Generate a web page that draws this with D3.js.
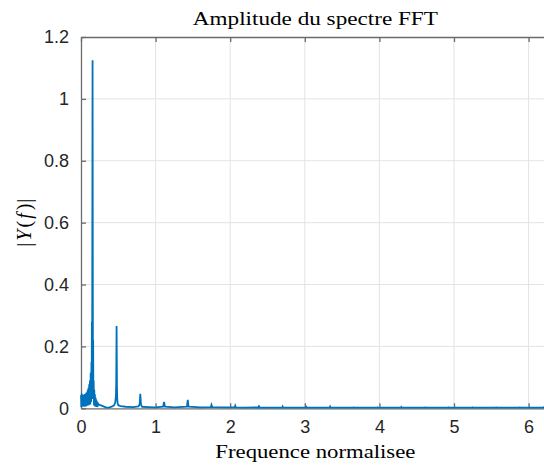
<!DOCTYPE html>
<html>
<head>
<meta charset="utf-8">
<script src="https://cdn.jsdelivr.net/npm/d3@7"></script>
<style>
  html, body { margin: 0; padding: 0; background: #fff; }
  svg { display: block; }
</style>
</head>
<body>
<div id="chart"></div>
<script>
// ---- data ----
const freq = [
  0.000, 0.005, 0.010, 0.015, 0.020, 0.025, 0.030, 0.035, 0.040, 0.045,
  0.050, 0.055, 0.060, 0.065, 0.070, 0.075, 0.080, 0.085, 0.090, 0.095,
  0.100, 0.105, 0.110, 0.115, 0.120, 0.125, 0.130, 0.135, 0.140, 0.143,
  0.146, 0.149, 0.155, 0.160, 0.163, 0.166, 0.170, 0.174, 0.178, 0.182,
  0.186, 0.190, 0.195, 0.200, 0.205, 0.210, 0.215, 0.220, 0.228, 0.235,
  0.260, 0.300, 0.340, 0.380, 0.420, 0.445, 0.460, 0.468, 0.472, 0.477,
  0.482, 0.486, 0.492, 0.500, 0.530, 0.600, 0.700, 0.770, 0.786, 0.795,
  0.804, 0.820, 0.900, 1.000, 1.100, 1.113, 1.126, 1.250, 1.420, 1.431,
  1.442, 1.600, 1.740, 1.749, 1.758, 1.950, 2.060, 2.067, 2.074, 2.200,
  2.380, 2.385, 2.390, 2.600, 2.698, 2.703, 2.708, 3.016, 3.021, 3.026,
  3.334, 3.339, 3.344, 3.652, 3.657, 3.662, 3.970, 3.975, 3.980, 4.288,
  4.293, 4.298, 4.606, 4.611, 4.616, 4.924, 4.929, 4.934, 5.242, 5.247,
  5.252, 5.560, 5.565, 5.570, 5.878, 5.883, 5.888, 6.196, 6.201, 6.206,
  6.283
];
const amplitude = [
  0.042, 0.004, 0.048, 0.010, 0.040, 0.006, 0.044, 0.008, 0.041, 0.005,
  0.046, 0.009, 0.045, 0.006, 0.050, 0.010, 0.052, 0.008, 0.060, 0.012,
  0.066, 0.010, 0.078, 0.015, 0.090, 0.012, 0.115, 0.020, 0.150, 0.030,
  0.280, 0.060, 1.125, 0.080, 0.220, 0.030, 0.090, 0.010, 0.060, 0.008,
  0.045, 0.006, 0.035, 0.005, 0.028, 0.004, 0.022, 0.004, 0.018, 0.012,
  0.010, 0.006, 0.002, 0.003, 0.006, 0.010, 0.020, 0.040, 0.080, 0.266,
  0.070, 0.030, 0.015, 0.010, 0.007, 0.005, 0.004, 0.006, 0.012, 0.047,
  0.012, 0.005, 0.004, 0.003, 0.005, 0.021, 0.005, 0.003, 0.005, 0.027,
  0.005, 0.003, 0.004, 0.011, 0.004, 0.003, 0.003, 0.008, 0.003, 0.002,
  0.003, 0.009, 0.003, 0.002, 0.002, 0.005, 0.002, 0.002, 0.004, 0.002,
  0.002, 0.005, 0.002, 0.002, 0.003, 0.002, 0.002, 0.003, 0.002, 0.002,
  0.004, 0.002, 0.002, 0.003, 0.002, 0.002, 0.003, 0.002, 0.002, 0.003,
  0.002, 0.002, 0.003, 0.002, 0.002, 0.003, 0.002, 0.002, 0.003, 0.002,
  0.002
];
const xTicks = [0, 1, 2, 3, 4, 5, 6];
const yTicks = [0, 0.2, 0.4, 0.6, 0.8, 1, 1.2];
const yTickLabels = ["0", "0.2", "0.4", "0.6", "0.8", "1", "1.2"];
const xDomain = [0, 2 * Math.PI];
const yDomain = [0, 1.2];
const titleText = "Amplitude du spectre FFT";
const xLabelText = "Frequence normalisee";

// ---- layout ----
const W = 544, H = 468;
const mLeft = 81, mTop = 37, mBottom = 408.3;
const mRight = mLeft + 74.6 * 2 * Math.PI;

const svg = d3.select("#chart").append("svg")
  .attr("width", W).attr("height", H);

const x = d3.scaleLinear().domain(xDomain).range([mLeft, mRight]);
const y = d3.scaleLinear().domain(yDomain).range([mBottom, mTop]);

const axisColor = "#6b6b6b";
const textColor = "#262626";
const sans = "'Liberation Sans', Arial, Helvetica, sans-serif";
const serif = "'Liberation Serif', 'Times New Roman', serif";

// grid
const grid = svg.append("g");
grid.selectAll("line.gx").data(xTicks.filter(d => d > 0)).join("line")
  .attr("x1", d => x(d)).attr("x2", d => x(d))
  .attr("y1", mTop).attr("y2", mBottom)
  .attr("stroke", "#e3e3e3").attr("stroke-width", 1);
grid.selectAll("line.gy").data(yTicks.filter(d => d > 0 && d < 1.2)).join("line")
  .attr("x1", mLeft).attr("x2", mRight)
  .attr("y1", d => y(d)).attr("y2", d => y(d))
  .attr("stroke", "#e3e3e3").attr("stroke-width", 1);

function styleAxis(g) {
  g.select(".domain").attr("stroke", axisColor).attr("stroke-width", 1.3);
  g.selectAll(".tick line").attr("stroke", axisColor).attr("stroke-width", 1.3);
  g.selectAll(".tick text").attr("fill", textColor)
    .style("font-family", sans).style("font-size", "18px");
}

svg.append("g").attr("transform", `translate(0,${mBottom})`)
  .call(d3.axisBottom(x).tickValues(xTicks).tickSize(-5).tickSizeOuter(0).tickPadding(12)
    .tickFormat(d3.format("d")))
  .call(styleAxis);
svg.append("g").attr("transform", `translate(0,${mTop})`)
  .call(d3.axisTop(x).tickValues(xTicks).tickSize(-5).tickSizeOuter(0).tickFormat(""))
  .call(styleAxis);
svg.append("g").attr("transform", `translate(${mLeft},0)`)
  .call(d3.axisLeft(y).tickValues(yTicks).tickSize(-5).tickSizeOuter(0).tickPadding(12)
    .tickFormat((d, i) => yTickLabels[i]))
  .call(styleAxis);
svg.append("g").attr("transform", `translate(${mRight},0)`)
  .call(d3.axisRight(y).tickValues(yTicks).tickSize(-5).tickSizeOuter(0).tickFormat(""))
  .call(styleAxis);

// data line
const pts = freq.map((f, i) => [f, amplitude[i]]);
svg.append("path")
  .datum(pts)
  .attr("fill", "none")
  .attr("stroke", "#0072BD")
  .attr("stroke-width", 1.8)
  .attr("stroke-linejoin", "miter")
  .attr("d", d3.line().x(d => x(d[0])).y(d => y(d[1])));

// title
const cx = (mLeft + mRight) / 2;
svg.append("text")
  .attr("x", cx).attr("y", 25)
  .attr("text-anchor", "middle")
  .attr("textLength", 245).attr("lengthAdjust", "spacingAndGlyphs")
  .style("font-family", serif).style("font-size", "19px")
  .attr("fill", "#000")
  .text(titleText);

// x label
svg.append("text")
  .attr("x", cx).attr("y", 458)
  .attr("text-anchor", "middle")
  .attr("textLength", 200).attr("lengthAdjust", "spacingAndGlyphs")
  .style("font-family", serif).style("font-size", "19px")
  .attr("fill", "#000")
  .text(xLabelText);

// y label |Y(f)|
const yl = svg.append("text")
  .attr("transform", `translate(31,${(mTop + mBottom) / 2}) rotate(-90)`)
  .attr("text-anchor", "middle")
  .style("font-family", serif).style("font-size", "20px")
  .attr("fill", "#000");
yl.append("tspan").text("|");
yl.append("tspan").attr("dx", 2).style("font-style", "italic").text("Y");
yl.append("tspan").attr("dx", 2).text("(");
yl.append("tspan").attr("dx", 2).style("font-style", "italic").text("f");
yl.append("tspan").attr("dx", 3).text(")");
yl.append("tspan").attr("dx", 1).text("|");
</script>
</body>
</html>
